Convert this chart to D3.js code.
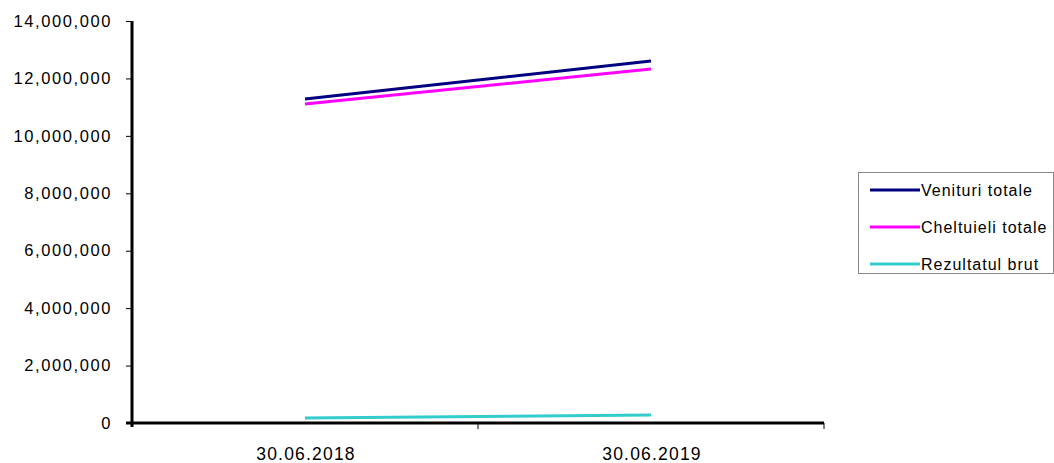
<!DOCTYPE html>
<html><head><meta charset="utf-8">
<script src="https://cdn.jsdelivr.net/npm/d3@7"></script>
<style>body{margin:0;background:#fff;} svg{display:block;}</style>
</head><body>
<svg id="c" width="1054" height="463"></svg>
<script>
const categories = ["30.06.2018", "30.06.2019"];
const seriesNames = ["Venituri totale", "Cheltuieli totale", "Rezultatul brut"];
const venituri = [11280000, 12610000];
const cheltuieli = [11110000, 12330000];
const rezultat = [170000, 280000];
const yTicks = [0, 2000000, 4000000, 6000000, 8000000, 10000000, 12000000, 14000000];
const colors = ["#000080", "#FF00FF", "#33CCCC"];

(function () {
const series = [venituri, cheltuieli, rezultat];
const svg = d3.select("#c");
const mLeft = 132, mRight = 824, mTop = 21, mBottom = 423;

const x = d3.scaleBand().domain(categories).range([mLeft, mRight]);
const y = d3.scaleLinear().domain([0, 14000000]).range([mBottom, mTop]);

const font = "'Liberation Sans', Arial, sans-serif";

// Y axis
const yAxis = svg.append("g").attr("transform", `translate(${mLeft},0)`)
  .call(d3.axisLeft(y).tickValues(yTicks).tickSize(6).tickPadding(14).tickFormat(d3.format(",")));
yAxis.select(".domain").remove();
yAxis.selectAll(".tick line").attr("stroke", "#000").attr("stroke-width", 1);
yAxis.selectAll(".tick text").attr("font-family", font).attr("font-size", 16.5).attr("letter-spacing", "1.6px").attr("fill", "#000");
svg.append("line").attr("x1", mLeft).attr("x2", mLeft).attr("y1", mTop).attr("y2", mBottom + 4)
  .attr("stroke", "#000").attr("stroke-width", 3);

// X axis
svg.append("line").attr("x1", mLeft - 6).attr("x2", mRight).attr("y1", mBottom).attr("y2", mBottom)
  .attr("stroke", "#000").attr("stroke-width", 3);
const xb = categories.map(c => x(c) + x.bandwidth());
svg.selectAll(".xt").data(xb).join("line")
  .attr("x1", d => d).attr("x2", d => d).attr("y1", mBottom).attr("y2", mBottom + 6)
  .attr("stroke", "#000").attr("stroke-width", 1);
svg.selectAll(".xl").data(categories).join("text")
  .attr("x", d => x(d) + x.bandwidth() / 2 + 1).attr("y", mBottom + 37)
  .attr("text-anchor", "middle").attr("font-family", font).attr("font-size", 17.5)
  .attr("letter-spacing", "1.2px").attr("fill", "#000").text(d => d);

// Lines
const line = d3.line().x((d, i) => x(categories[i]) + x.bandwidth() / 2).y(d => y(d));
svg.selectAll(".s").data(series).join("path")
  .attr("d", d => line(d)).attr("fill", "none")
  .attr("stroke", (d, i) => colors[i]).attr("stroke-width", 3);

// Legend
const lg = svg.append("g");
lg.append("rect").attr("x", 858.5).attr("y", 172.5).attr("width", 195).attr("height", 101)
  .attr("fill", "#fff").attr("stroke", "#888").attr("stroke-width", 1);
seriesNames.forEach((n, i) => {
  const yy = 190 + i * 37;
  lg.append("line").attr("x1", 870).attr("x2", 920).attr("y1", yy).attr("y2", yy)
    .attr("stroke", colors[i]).attr("stroke-width", 3);
  lg.append("text").attr("x", 921).attr("y", yy + 6).attr("font-family", font)
    .attr("font-size", 16).attr("letter-spacing", "1px").attr("fill", "#000").text(n);
});
})();
</script>
</body></html>
